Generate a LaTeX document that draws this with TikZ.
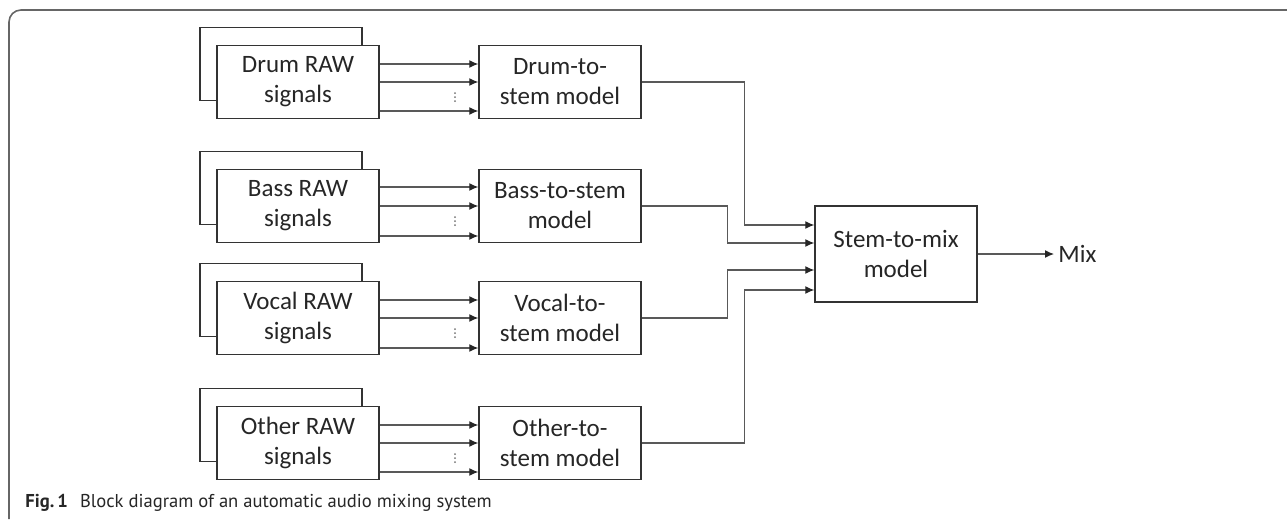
\documentclass[tikz,border=0pt]{standalone}
\usepackage{fontspec}
\setmainfont{Carlito}
\newfontfamily\capfont{PT Sans}
\usetikzlibrary{positioning,arrows.meta}

\begin{document}
\begin{tikzpicture}[x=0.5pt,y=-0.5pt,
  every path/.style={>={Latex[length=4.5pt,width=4pt,color=black!85]}},
  blk/.style={draw=black!80,line width=0.7pt,fill=white,minimum width=81pt,
    minimum height=36.5pt,inner sep=0pt,align=center,text=black!85,
    font=\fontsize{12.5}{15}\selectfont},
  link/.style={draw=black!65,line width=0.6pt},
  dotmark/.style={fill=black!55}]
\useasboundingbox (0,0) rectangle (1287,521);
% frame of the figure
\draw[black!60,line width=0.8pt,rounded corners=6pt] (9,519) -- (9,10) -- (1287,10);
% raw signal stacks
\node[blk]          (drumb)  at (281,64)  {};
\node[blk]          (drum)   at (298,82)  {Drum RAW\\signals};
\node[blk]          (bassb)  at (281,188) {};
\node[blk]          (bass)   at (298,206) {Bass RAW\\signals};
\node[blk]          (vocalb) at (281,300) {};
\node[blk]          (vocal)  at (298,318) {Vocal RAW\\signals};
\node[blk]          (otherb) at (281,425) {};
\node[blk]          (other)  at (298,443) {Other RAW\\signals};
% stem models
\node[blk]          (drumm)  at (560,82)  {Drum-to-\\stem model};
\node[blk]          (bassm)  at (560,206) {Bass-to-stem\\model};
\node[blk]          (vocalm) at (560,318) {Vocal-to-\\stem model};
\node[blk]          (otherm) at (560,443) {Other-to-\\stem model};
\node[blk,minimum width=81pt,minimum height=48pt] (mix) at (896,254) {Stem-to-mix\\model};
\node[anchor=west,inner sep=2pt,text=black!85,font=\fontsize{12.5}{15}\selectfont]
                    (out)    at (1054,254) {Mix};
% channel arrows
\draw[->,link] ([yshift=9pt]drum.east)    -- ([yshift=9pt]drumm.west);
\draw[->,link] (drum.east)                -- (drumm.west);
\draw[->,link] ([yshift=-14.5pt]drum.east) -- ([yshift=-14.5pt]drumm.west);
\draw[->,link] ([yshift=9.5pt]bass.east)  -- ([yshift=9.5pt]bassm.west);
\draw[->,link] (bass.east)                -- (bassm.west);
\draw[->,link] ([yshift=-15pt]bass.east)  -- ([yshift=-15pt]bassm.west);
\draw[->,link] ([yshift=9pt]vocal.east)   -- ([yshift=9pt]vocalm.west);
\draw[->,link] (vocal.east)               -- (vocalm.west);
\draw[->,link] ([yshift=-15pt]vocal.east) -- ([yshift=-15pt]vocalm.west);
\draw[->,link] ([yshift=9pt]other.east)   -- ([yshift=9pt]otherm.west);
\draw[->,link] (other.east)               -- (otherm.west);
\draw[->,link] ([yshift=-14.5pt]other.east) -- ([yshift=-14.5pt]otherm.west);
% the little dots between the channels
\foreach \y in {97,221,333,458}
  \foreach \d in {-4,0,4}
    \fill[dotmark] (455,\y+\d) circle (0.5pt);
% stems into the mix model
\draw[->,link] (drumm.east)  -- ++(103,0) |- ([yshift=14.5pt]mix.west);
\draw[->,link] (bassm.east)  -- ++(86,0)  |- ([yshift=5.5pt]mix.west);
\draw[->,link] (vocalm.east) -- ++(86,0)  |- ([yshift=-8pt]mix.west);
\draw[->,link] (otherm.east) -- ++(103,0) |- ([yshift=-18pt]mix.west);
\draw[->,link] (mix) -- (out);
% caption
\node[anchor=base west,inner sep=0pt,text=black!85,font=\capfont\fontsize{9.3}{11}\selectfont]
  (cap) at (25,507) {\textbf{Fig.\,1}\hspace{6pt}Block diagram of an automatic audio mixing system};
\end{tikzpicture}
\end{document}
